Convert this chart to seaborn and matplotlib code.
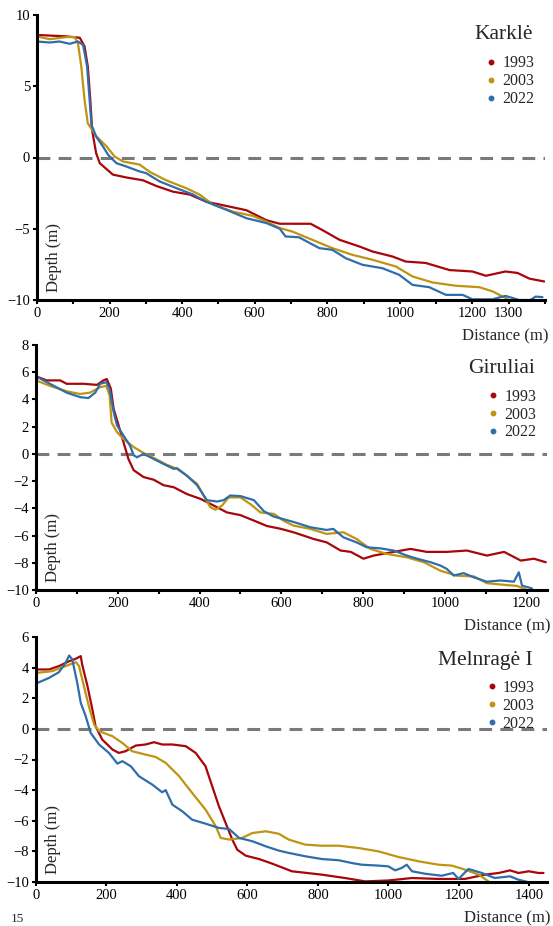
import numpy as np
import pandas as pd
import seaborn as sns
import matplotlib.pyplot as plt
from matplotlib.lines import Line2D

# profiles: distance (m), depth (m)
years = ['1993', '2003', '2022']
colors = ['#A8060B', '#BF9410', '#2F6DAB']

# Karkle
kar_93_x = [0, 81, 118, 131, 140, 147, 152, 163, 173, 209, 246, 292, 329, 375, 421, 466, 522, 577, 632, 669,
            704, 754, 787, 834, 889, 925, 980, 1016, 1071, 1137, 1200, 1237, 1291, 1324, 1357, 1398]
kar_93_y = [8.6, 8.5, 8.4, 7.8, 6.4, 4.0, 1.9, 0.3, -0.4, -1.2, -1.4, -1.6, -2.0, -2.4, -2.6, -3.1, -3.4, -3.7, -4.4, -4.65,
            -4.65, -4.65, -5.1, -5.78, -6.25, -6.6, -6.95, -7.3, -7.4, -7.9, -8.0, -8.3, -8.0, -8.1, -8.5, -8.7]
kar_03_x = [0, 35, 81, 104, 113, 122, 131, 140, 163, 191, 214, 237, 283, 310, 356, 411, 448, 485, 540, 595, 632, 669,
            704, 759, 814, 869, 925, 989, 1035, 1090, 1154, 1219, 1256, 1292, 1301]
kar_03_y = [8.5, 8.3, 8.45, 8.45, 8.0, 6.4, 4.05, 2.4, 1.5, 0.8, 0.07, -0.28, -0.5, -1.0, -1.6, -2.15, -2.6, -3.3, -3.8, -4.1, -4.5, -4.95,
            -5.2, -5.78, -6.36, -6.83, -7.18, -7.65, -8.35, -8.77, -9.0, -9.1, -9.4, -9.87, -10.0]
kar_22_x = [0, 35, 62, 90, 113, 127, 138, 145, 150, 163, 182, 196, 219, 246, 283, 301, 338, 384, 430, 466, 522, 577, 632, 669,
            685, 722, 778, 814, 851, 897, 952, 998, 1035, 1081, 1127, 1173, 1200, 1255, 1291, 1329, 1360, 1374, 1393]
kar_22_y = [8.14, 8.07, 8.14, 7.98, 8.14, 7.9, 6.4, 4.05, 2.3, 1.47, 0.77, 0.19, -0.4, -0.63, -0.98, -1.1, -1.68, -2.15, -2.6, -3.1, -3.67, -4.26, -4.6, -5.0,
            -5.54, -5.6, -6.36, -6.48, -7.07, -7.53, -7.77, -8.23, -8.94, -9.1, -9.64, -9.64, -9.95, -9.95, -9.71, -10.0, -10.0, -9.76, -9.8]

# Giruliai
gir_93_x = [0, 26, 59, 75, 116, 149, 165, 173, 183, 190, 202, 214, 226, 239, 263, 288, 312, 337, 369, 402, 435, 467, 500, 533, 565, 598,
            630, 679, 711, 745, 770, 801, 826, 875, 916, 956, 1005, 1054, 1103, 1145, 1186, 1218, 1247]
gir_93_y = [5.7, 5.4, 5.4, 5.15, 5.15, 5.07, 5.4, 5.5, 4.8, 3.3, 2.1, 0.86, -0.37, -1.2, -1.7, -1.9, -2.3, -2.45, -2.95, -3.3, -3.8, -4.3, -4.5, -4.9, -5.3, -5.5,
            -5.76, -6.25, -6.5, -7.1, -7.2, -7.7, -7.47, -7.2, -6.98, -7.2, -7.2, -7.1, -7.47, -7.2, -7.84, -7.7, -7.96]
gir_03_x = [0, 34, 75, 108, 132, 157, 172, 180, 185, 198, 214, 239, 263, 288, 320, 345, 369, 394, 410, 426, 439, 455, 471, 500, 525, 549, 582,
            605, 630, 671, 711, 752, 784, 818, 858, 907, 949, 989, 1030, 1071, 1103, 1152, 1177, 1201]
gir_03_y = [5.4, 5.0, 4.6, 4.4, 4.5, 4.9, 5.0, 4.3, 2.3, 1.6, 1.1, 0.5, 0.07, -0.3, -0.8, -1.1, -1.6, -2.2, -3.06, -3.9, -4.1, -3.8, -3.2, -3.2, -3.7, -4.3, -4.41,
            -4.9, -5.27, -5.51, -5.88, -5.76, -6.25, -6.98, -7.35, -7.6, -7.96, -8.58, -8.95, -9.0, -9.5, -9.64, -9.7, -10.0]
gir_22_x = [0, 34, 75, 108, 128, 145, 157, 172, 180, 190, 198, 214, 230, 239, 247, 263, 288, 312, 337, 345, 369, 394, 418, 443, 459, 475, 500, 533, 557, 581,
            630, 671, 711, 727, 752, 784, 809, 842, 875, 907, 932, 965, 989, 1005, 1022, 1046, 1071, 1103, 1136, 1169, 1181, 1189, 1213]
gir_22_y = [5.7, 5.15, 4.5, 4.17, 4.1, 4.5, 5.15, 5.27, 4.78, 3.06, 2.1, 1.35, 0.6, -0.1, -0.25, 0.0, -0.37, -0.74, -1.1, -1.05, -1.6, -2.3, -3.4, -3.5, -3.4, -3.06, -3.1, -3.4, -4.2, -4.6,
            -5.0, -5.39, -5.59, -5.51, -6.13, -6.5, -6.86, -6.94, -7.1, -7.47, -7.7, -7.96, -8.2, -8.45, -8.94, -8.76, -9.07, -9.39, -9.3, -9.39, -8.7, -9.68, -9.88]

# Melnrage I
mel_93_x = [4, 37, 65, 94, 113, 127, 131, 146, 160, 169, 188, 217, 235, 254, 283, 311, 335, 358, 387, 425, 453, 481, 500, 519, 538, 557, 571, 595, 633, 670,
            726, 811, 877, 934, 1000, 1067, 1142, 1217, 1274, 1313, 1345, 1369, 1398, 1426, 1440]
mel_93_y = [3.88, 3.88, 4.1, 4.42, 4.58, 4.75, 4.2, 2.8, 1.26, 0.17, -0.7, -1.35, -1.57, -1.46, -1.09, -1.02, -0.87, -1.02, -1.02, -1.13, -1.57, -2.44, -3.75, -5.05, -6.14, -7.23, -7.89, -8.28, -8.5, -8.8,
            -9.3, -9.52, -9.74, -9.96, -9.9, -9.74, -9.8, -9.8, -9.52, -9.41, -9.24, -9.41, -9.3, -9.41, -9.41]
mel_03_x = [4, 46, 84, 113, 122, 136, 150, 165, 179, 217, 245, 273, 311, 339, 368, 406, 443, 481, 510, 524, 548, 585, 614, 652, 689,
            717, 764, 811, 859, 915, 972, 1029, 1086, 1142, 1180, 1217, 1256, 1284]
mel_03_y = [3.66, 3.77, 4.1, 4.36, 4.1, 2.79, 1.48, 0.28, -0.15, -0.48, -0.92, -1.46, -1.68, -1.83, -2.22, -3.09, -4.18, -5.27, -6.36, -7.12, -7.23, -7.12, -6.8, -6.69, -6.85,
            -7.23, -7.56, -7.63, -7.63, -7.78, -8.0, -8.37, -8.65, -8.87, -8.93, -9.19, -9.52, -9.96]
mel_22_x = [4, 37, 65, 84, 94, 103, 117, 127, 141, 155, 179, 207, 231, 245, 269, 292, 330, 358, 368, 387, 415, 443, 481, 519, 548, 576, 614, 652, 689,
            717, 764, 811, 859, 896, 924, 972, 1000, 1019, 1038, 1052, 1067, 1104, 1151, 1184, 1199, 1227, 1265, 1302, 1345, 1369, 1407]
mel_22_y = [3.0, 3.33, 3.7, 4.31, 4.79, 4.53, 3.0, 1.7, 0.83, -0.26, -1.02, -1.57, -2.27, -2.11, -2.44, -3.09, -3.64, -4.14, -4.0, -4.95, -5.38, -5.93, -6.19, -6.47, -6.54, -7.12, -7.34, -7.67, -7.95,
            -8.1, -8.32, -8.5, -8.58, -8.76, -8.87, -8.93, -8.98, -9.24, -9.08, -8.87, -9.3, -9.46, -9.59, -9.41, -9.8, -9.15, -9.41, -9.74, -9.63, -9.85, -10.07]

site_names = ['Karklė', 'Giruliai', 'Melnragė I']

sns.set_style('ticks')
plt.rcParams['font.family'] = ['Liberation Serif', 'DejaVu Serif']

W, H = 553, 926
fig = plt.figure(figsize=(W / 100, H / 100), dpi=100)

# axes boxes in pixels: left, top, right, bottom
boxes = [(37, 15, 545, 300), (36, 345, 547, 590), (36, 637, 547, 882)]
panels = [
    [(kar_93_x, kar_93_y), (kar_03_x, kar_03_y), (kar_22_x, kar_22_y)],
    [(gir_93_x, gir_93_y), (gir_03_x, gir_03_y), (gir_22_x, gir_22_y)],
    [(mel_93_x, mel_93_y), (mel_03_x, mel_03_y), (mel_22_x, mel_22_y)],
]
xlims = [1400, 1250, 1450]
ylims = [(-10, 10), (-10, 8), (-10, 6)]
ysteps = [5, 2, 2]
title_pos = [(0.976, 0.93, 0.858), (0.976, 0.906, 0.822), (0.973, 0.905, 0.825)]

for i, (box, series) in enumerate(zip(boxes, panels)):
    l, t, r, b = box
    ax = fig.add_axes([l / W, 1 - b / H, (r - l) / W, (b - t) / H])
    frames = []
    for yr, (xs, ys) in zip(years, series):
        frames.append(pd.DataFrame({'dist': xs, 'depth': ys, 'year': yr}))
    df = pd.concat(frames, ignore_index=True)
    sns.lineplot(data=df, x='dist', y='depth', hue='year', palette=colors,
                 estimator=None, sort=False, lw=1.6, legend=False, ax=ax)
    ax.axhline(0, color='#7a7a7a', lw=2.2, dashes=(4.2, 2.7), zorder=0)

    ax.set_xlim(0, xlims[i])
    ax.set_ylim(*ylims[i])
    ax.set_yticks(np.arange(ylims[i][0], ylims[i][1] + 1, ysteps[i]))
    if i == 0:
        ticks = list(range(0, 1401, 100))
        labs = [str(v) if (v % 200 == 0 and v <= 1200) or v == 1300 else '' for v in ticks]
        ax.set_xticks(ticks, labs)
    elif i == 1:
        ticks = list(range(0, 1201, 100))
        ax.set_xticks(ticks, [str(v) if v % 200 == 0 else '' for v in ticks])
    else:
        ax.set_xticks(range(0, 1401, 200))

    ax.set_xlabel('')
    ax.set_ylabel('')
    sns.despine(ax=ax)
    for sp in ['left', 'bottom']:
        ax.spines[sp].set_linewidth(2.2)
        ax.spines[sp].set_color('black')
    ax.tick_params(axis='both', length=3, width=1.5, labelsize=10.5, pad=2, colors='black')

    ax.annotate('Depth (m)', xy=(0, 0), xycoords='axes fraction', xytext=(17, 8),
                textcoords='offset pixels', rotation=90, ha='center', va='bottom', fontsize=12)
    ax.annotate('Distance (m)', xy=(1, 0), xycoords='axes fraction', xytext=(3, -36),
                textcoords='offset pixels', ha='right', va='center', fontsize=12)

    tx, ty, ly = title_pos[i]
    ax.text(tx, ty, site_names[i], transform=ax.transAxes, ha='right', va='center', fontsize=15.5)
    handles = [Line2D([], [], ls='none', marker='o', ms=3.2, color=c) for c in colors]
    ax.legend(handles, years, loc='upper right', bbox_to_anchor=(tx + 0.003, ly), frameon=False,
              fontsize=11.5, handlelength=0.6, handletextpad=0.4, labelspacing=0.12,
              borderpad=0, borderaxespad=0)

fig.text(17 / W, 1 - 925 / H, '15', ha='center', va='bottom', fontsize=9.5)

fig.savefig('out.png', dpi=100)
